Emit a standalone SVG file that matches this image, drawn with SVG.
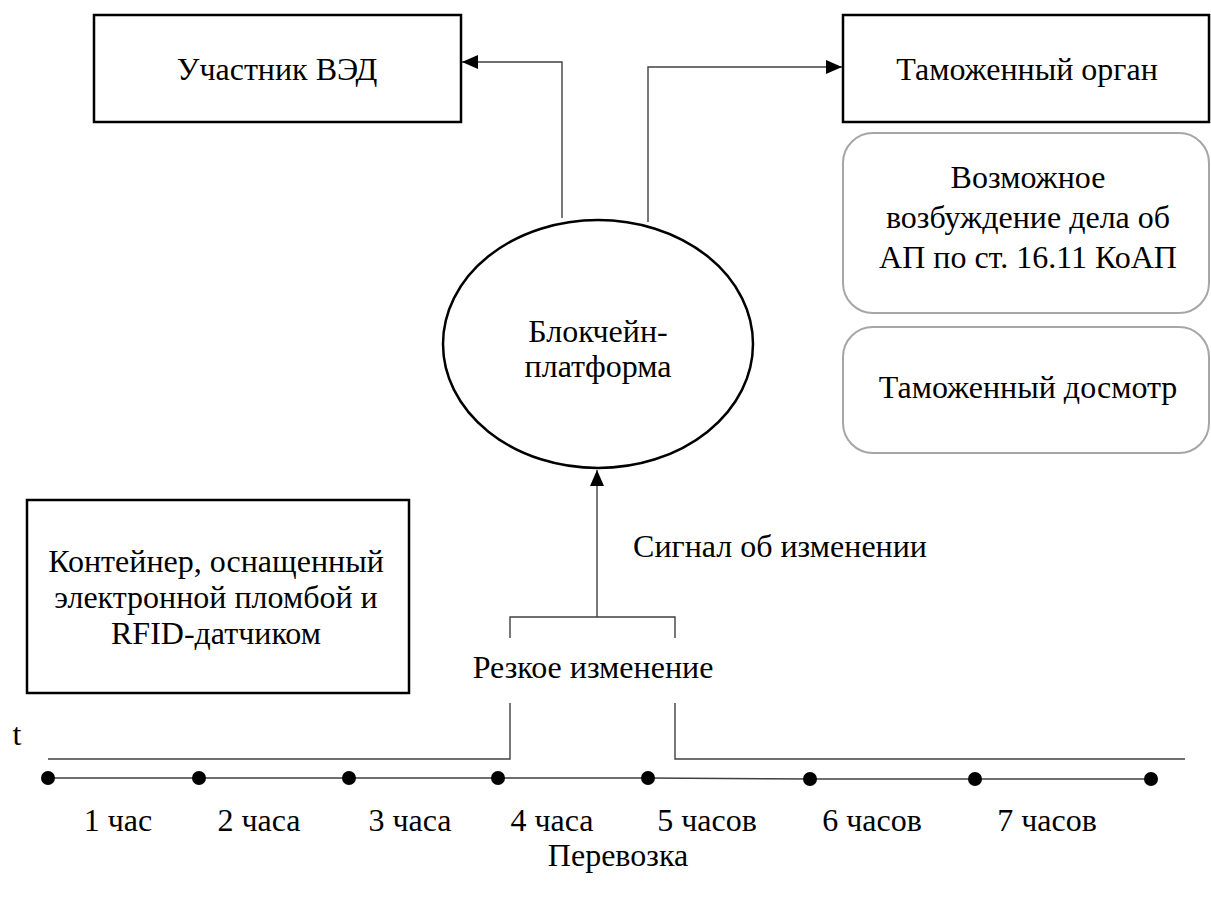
<svg xmlns="http://www.w3.org/2000/svg" width="1211" height="904" viewBox="0 0 1211 904">
<defs>
<style>
.t{font-family:"Liberation Serif","Times New Roman",serif;font-size:32px;fill:#000;text-anchor:middle}
.box{fill:#fff;stroke:#000;stroke-width:2.5}
.rbox{fill:#fff;stroke:#a6a6a6;stroke-width:2}
.ln{fill:none;stroke:#404040;stroke-width:1.4}
.dot{fill:#000}
</style>
<marker id="ah2" viewBox="0 0 16 14" refX="16" refY="7" markerWidth="16" markerHeight="14" markerUnits="userSpaceOnUse" orient="auto">
<path d="M0,0 L16,7 L0,14 Z" fill="#000"/>
</marker>
</defs>
<rect width="1211" height="904" fill="#fff"/>

<g id="connectors">
<path class="ln" d="M562,218 V62 H462" marker-end="url(#ah2)"/>
<path class="ln" d="M648,222 V67 H842" marker-end="url(#ah2)"/>
<path class="ln" d="M597,617 V470" marker-end="url(#ah2)"/>
<path class="ln" d="M510,638 V617 H675 V638"/>
<path class="ln" d="M48,759 H510 V703"/>
<path class="ln" d="M675,703 V759 H1185"/>
<polyline class="ln" points="48,778 648,778 810,779 1151,779"/>
</g>

<g id="uchastnik">
<rect class="box" x="94" y="15" width="367" height="107"/>
<text class="t" x="277" y="80">Участник ВЭД</text>
</g>

<g id="tamozh-organ">
<rect class="box" x="843" y="15" width="366" height="107"/>
<text class="t" x="1027" y="80">Таможенный орган</text>
</g>

<g id="vozbuzhdenie">
<rect class="rbox" x="843" y="133" width="366" height="180" rx="30" ry="30"/>
<text class="t" x="1028" y="188">Возможное</text>
<text class="t" x="1028" y="228">возбуждение дела об</text>
<text class="t" x="1028" y="268">АП по ст. 16.11 КоАП</text>
</g>

<g id="dosmotr">
<rect class="rbox" x="843" y="327" width="366" height="126" rx="30" ry="30"/>
<text class="t" x="1028" y="398">Таможенный досмотр</text>
</g>

<g id="blockchain">
<ellipse cx="598" cy="344" rx="155" ry="124" fill="#fff" stroke="#000" stroke-width="2.5"/>
<text class="t" x="598" y="342">Блокчейн-</text>
<text class="t" x="598" y="377">платформа</text>
</g>

<g id="container">
<rect class="box" x="27" y="500" width="382" height="193"/>
<text class="t" x="216" y="572">Контейнер, оснащенный</text>
<text class="t" x="216" y="608">электронной пломбой и</text>
<text class="t" x="216" y="644">RFID-датчиком</text>
</g>

<g id="signal">
<text class="t" x="780" y="557">Сигнал об изменении</text>
</g>

<g id="rezkoe">
<text class="t" x="593" y="678">Резкое изменение</text>
</g>

<g id="timeline">
<circle class="dot" cx="48" cy="778" r="7"/>
<circle class="dot" cx="199" cy="778" r="7"/>
<circle class="dot" cx="349" cy="778" r="7"/>
<circle class="dot" cx="498" cy="778" r="7"/>
<circle class="dot" cx="648" cy="778" r="7"/>
<circle class="dot" cx="810" cy="779" r="7"/>
<circle class="dot" cx="975" cy="779" r="7"/>
<circle class="dot" cx="1151" cy="779" r="7"/>
<text class="t" x="17" y="745">t</text>
<text class="t" x="118" y="831">1 час</text>
<text class="t" x="259" y="831">2 часа</text>
<text class="t" x="410" y="831">3 часа</text>
<text class="t" x="552" y="831">4 часа</text>
<text class="t" x="707" y="831">5 часов</text>
<text class="t" x="872" y="831">6 часов</text>
<text class="t" x="1047" y="831">7 часов</text>
<text class="t" x="618" y="866">Перевозка</text>
</g>
</svg>
